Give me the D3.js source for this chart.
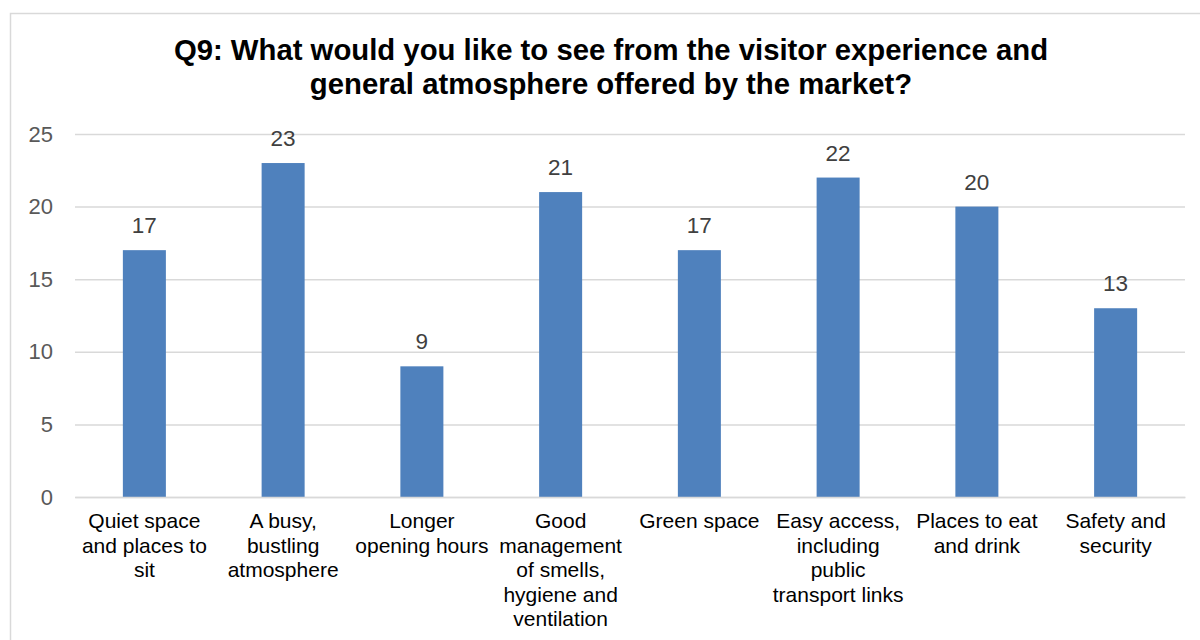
<!DOCTYPE html>
<html>
<head>
<meta charset="utf-8">
<script src="https://cdn.jsdelivr.net/npm/d3@7"></script>
<style>
  html, body { margin: 0; padding: 0; background: #fff; }
  svg { display: block; font-family: Arial, "Liberation Sans", sans-serif; }
</style>
</head>
<body>
<svg id="chart" width="1200" height="640"></svg>
<script>
// Survey responses for Q9 (number of respondents per option)
const categories = [
  "Quiet space\nand places to\nsit",
  "A busy,\nbustling\natmosphere",
  "Longer\nopening hours",
  "Good\nmanagement\nof smells,\nhygiene and\nventilation",
  "Green space",
  "Easy access,\nincluding\npublic\ntransport links",
  "Places to eat\nand drink",
  "Safety and\nsecurity"
];
const responses = [17, 23, 9, 21, 17, 22, 20, 13];
const yTicks = [0, 5, 10, 15, 20, 25];
const titleLines = [
  "Q9: What would you like to see from the visitor experience and",
  "general atmosphere offered by the market?"
];

const svg = d3.select("#chart");

// Chart frame
svg.append("rect")
  .attr("x", 10.5).attr("y", 13.5)
  .attr("width", 1200).attr("height", 700)
  .attr("fill", "#fff")
  .attr("stroke", "#d9d9d9").attr("stroke-width", 1.5);

const plot = { left: 75, right: 1185, top: 134, bottom: 497 };

const x = d3.scaleBand()
  .domain(d3.range(categories.length))
  .range([plot.left, plot.right])
  .paddingInner(0.69).paddingOuter(0.345);

const y = d3.scaleLinear()
  .domain([0, 25])
  .range([plot.bottom, plot.top]);

// Title
svg.append("text")
  .attr("x", 611).attr("y", 60)
  .attr("text-anchor", "middle")
  .attr("font-size", 29.3).attr("font-weight", "bold").attr("fill", "#000")
  .selectAll("tspan").data(titleLines).join("tspan")
  .attr("x", 611).attr("dy", (d, i) => i === 0 ? 0 : 33.5)
  .text(d => d);

// Gridlines and value axis labels
const yAxis = d3.axisLeft(y).tickValues(yTicks)
  .tickSize(-(plot.right - plot.left)).tickPadding(22);

const gy = svg.append("g")
  .attr("transform", `translate(${plot.left},0)`)
  .call(yAxis);
gy.select(".domain").remove();
gy.selectAll(".tick line").attr("stroke", "#d9d9d9").attr("stroke-width", 1.5);
gy.selectAll(".tick text")
  .attr("font-size", 22).attr("fill", "#595959")
  .attr("font-family", "Arial, 'Liberation Sans', sans-serif");

// Bars
svg.append("g").selectAll("rect").data(responses).join("rect")
  .attr("x", (d, i) => x(i))
  .attr("y", d => y(d))
  .attr("width", x.bandwidth())
  .attr("height", d => y(0) - y(d))
  .attr("fill", "#4f81bd");

// Value labels
svg.append("g").selectAll("text").data(responses).join("text")
  .attr("x", (d, i) => x(i) + x.bandwidth() / 2)
  .attr("y", d => y(d) - 17)
  .attr("text-anchor", "middle")
  .attr("font-size", 22.5).attr("fill", "#404040")
  .text(d => d);

// Category axis
const xAxis = d3.axisBottom(x).tickSize(0).tickFormat("");
const gx = svg.append("g")
  .attr("transform", `translate(0,${plot.bottom})`)
  .call(xAxis);
gx.select(".domain").attr("stroke", "#d9d9d9").attr("stroke-width", 1.5);

gx.selectAll(".tick").append("text")
  .attr("text-anchor", "middle")
  .attr("font-size", 21).attr("fill", "#000")
  .attr("font-family", "Arial, 'Liberation Sans', sans-serif")
  .each(function(d) {
    const lines = categories[d].split("\n");
    d3.select(this).selectAll("tspan").data(lines).join("tspan")
      .attr("x", 0)
      .attr("y", (l, i) => 31 + i * 24.5)
      .text(l => l);
  });
</script>
</body>
</html>
